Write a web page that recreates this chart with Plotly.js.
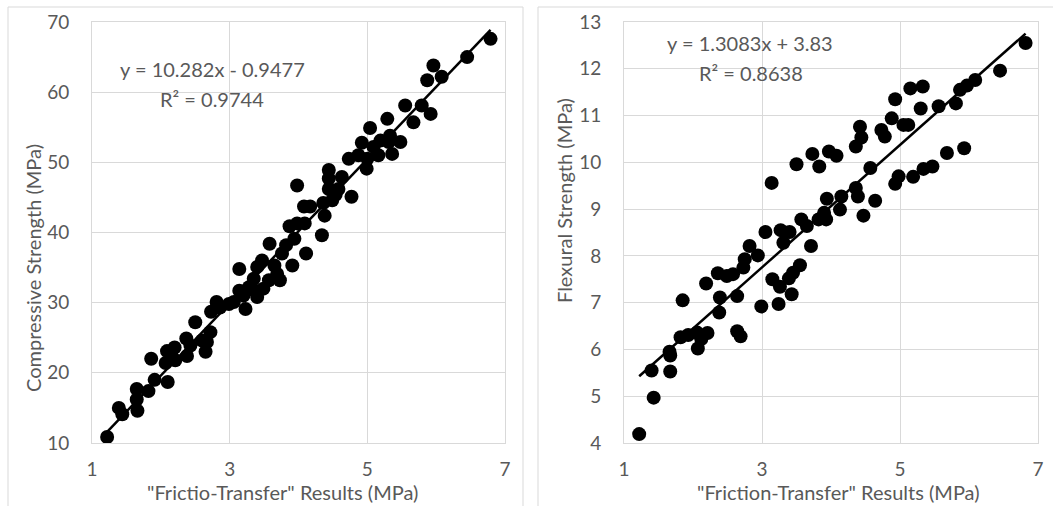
<!DOCTYPE html>
<html>
<head>
<meta charset="utf-8">
<script src="https://cdn.plot.ly/plotly-3.0.1.min.js"></script>
<style>html,body{margin:0;padding:0;background:#fff;}#chart{width:1053px;height:506px;}</style>
</head>
<body>
<div id="chart"></div>
<script>
// Left chart: "Frictio-Transfer" results vs Compressive Strength
const ftLeft = [1.22,1.39,1.44,1.65,1.65,1.66,1.82,1.86,1.91,2.09,2.10,2.07,2.20,2.21,2.15,2.37,2.38,2.43,2.50,2.60,2.65,2.72,2.67,2.73,2.81,2.86,2.99,3.06,3.14,3.14,3.23,3.20,3.28,3.35,3.35,3.40,3.40,3.47,3.49,3.57,3.58,3.65,3.69,3.73,3.76,3.82,3.87,3.91,3.94,3.98,3.98,4.08,4.09,4.11,4.17,4.34,4.36,4.38,4.44,4.44,4.44,4.49,4.54,4.58,4.63,4.73,4.77,4.87,4.92,4.99,5.00,5.04,5.09,5.16,5.19,5.29,5.31,5.36,5.33,5.48,5.55,5.67,5.79,5.87,5.92,5.96,6.08,6.45,6.79];
const compStrength = [10.85,15.0,14.1,17.7,16.2,14.6,17.4,22.0,19.0,23.1,18.7,21.4,23.6,21.8,22.7,24.9,22.4,23.9,27.2,24.6,23.0,25.8,24.4,28.7,30.1,29.3,29.8,30.1,34.8,31.7,29.1,31.0,32.2,33.4,31.8,30.8,35.1,36.0,32.0,33.2,38.4,35.3,34.1,33.2,37.0,38.2,40.9,35.3,39.1,46.7,41.3,43.7,41.3,37.0,43.7,39.6,44.2,42.4,48.9,47.7,46.2,44.6,45.4,46.2,47.9,50.5,45.1,51.0,52.8,49.1,50.5,54.9,52.2,51.0,53.1,56.2,52.9,51.2,53.8,52.9,58.1,55.7,58.1,61.7,56.9,63.8,62.2,65.0,67.6];
const compFit = {slope: 10.282, intercept: -0.9477, r2: 0.9744};

// Right chart: "Friction-Transfer" results vs Flexural Strength
const ftRight = [1.22,1.40,1.43,1.66,1.67,1.67,1.82,1.85,1.93,2.06,2.07,2.12,2.19,2.21,2.36,2.39,2.38,2.49,2.58,2.64,2.64,2.69,2.73,2.75,2.82,2.94,2.99,3.05,3.14,3.15,3.24,3.26,3.27,3.31,3.40,3.39,3.43,3.45,3.50,3.55,3.57,3.65,3.71,3.73,3.82,3.83,3.90,3.93,3.94,3.97,4.08,4.13,4.15,4.36,4.36,4.39,4.42,4.44,4.47,4.57,4.64,4.73,4.78,4.88,4.93,4.93,4.98,5.05,5.12,5.15,5.19,5.30,5.33,5.34,5.47,5.56,5.68,5.81,5.87,5.93,5.97,6.09,6.45,6.82];
const flexStrength = [4.19,5.55,4.97,5.95,5.87,5.53,6.26,7.05,6.31,6.36,6.02,6.22,7.41,6.35,7.63,7.11,6.79,7.57,7.61,7.14,6.39,6.28,7.75,7.93,8.21,8.01,6.92,8.51,9.56,7.50,6.97,7.34,8.55,8.28,8.51,7.52,7.18,7.64,9.96,7.80,8.78,8.64,8.21,10.18,8.78,9.91,8.92,8.78,9.22,10.23,10.14,8.99,9.27,10.34,9.45,9.27,10.76,10.53,8.86,9.88,9.18,10.69,10.55,10.94,11.35,9.54,9.70,10.80,10.80,11.58,9.69,11.15,11.62,9.86,9.91,11.20,10.20,11.26,11.55,10.30,11.64,11.76,11.96,12.55];
const flexFit = {slope: 1.3083, intercept: 3.83, r2: 0.8638};

const xTickVals = [1, 3, 5, 7];
const compTicks = [10, 20, 30, 40, 50, 60, 70];
const flexTicks = [4, 5, 6, 7, 8, 9, 10, 11, 12, 13];

const W = 1053, H = 506;
const px = v => v / W;
const py = v => 1 - v / H;

function fitLine(xs, fit) {
  const x0 = Math.min(...xs), x1 = Math.max(...xs);
  return {x: [x0, x1], y: [fit.slope * x0 + fit.intercept, fit.slope * x1 + fit.intercept]};
}
const lineL = fitLine(ftLeft, compFit);
const lineR = fitLine(ftRight, flexFit);

const FONT = 'Lato, Open Sans, sans-serif';
const GREY = '#595959';
const GRID = '#d9d9d9';
const FS = 19;
const FT = 20;

const traces = [
  {x: ftLeft, y: compStrength, type: 'scatter', mode: 'markers', xaxis: 'x', yaxis: 'y',
   marker: {color: '#000', size: 14}},
  {x: lineL.x, y: lineL.y, type: 'scatter', mode: 'lines', xaxis: 'x', yaxis: 'y',
   line: {color: '#000', width: 2.5}},
  {x: ftRight, y: flexStrength, type: 'scatter', mode: 'markers', xaxis: 'x2', yaxis: 'y2',
   marker: {color: '#000', size: 14}},
  {x: lineR.x, y: lineR.y, type: 'scatter', mode: 'lines', xaxis: 'x2', yaxis: 'y2',
   line: {color: '#000', width: 2.5}}
];

function xax(domain, anchor) {
  return {domain: domain, anchor: anchor, range: [1, 7], tickvals: xTickVals, showgrid: true,
    gridcolor: GRID, gridwidth: 1, showline: true, mirror: true, linecolor: GRID, linewidth: 1,
    zeroline: false, ticks: '', ticklabelstandoff: 9, tickfont: {family: FONT, size: FS, color: GREY}};
}
function yax(domain, anchor, range, ticks) {
  return {domain: domain, anchor: anchor, range: range, tickvals: ticks, showgrid: true,
    gridcolor: GRID, gridwidth: 1, showline: true, mirror: true, linecolor: GRID, linewidth: 1,
    zeroline: false, ticks: '', ticklabelstandoff: 18, tickfont: {family: FONT, size: FS, color: GREY}};
}

const ann = (text, x, y, size, extra) => Object.assign({text: text, xref: 'paper', yref: 'paper', x: px(x), y: py(y),
  xanchor: 'center', yanchor: 'middle', showarrow: false, font: {family: FONT, size: size, color: GREY}}, extra || {});

const layout = {
  width: W, height: H, margin: {l: 0, r: 0, t: 0, b: 0},
  paper_bgcolor: '#fff', plot_bgcolor: '#fff', showlegend: false,
  xaxis: xax([px(92), px(505)], 'y'),
  yaxis: yax([py(443), py(22)], 'x', [10, 70], compTicks),
  xaxis2: xax([px(624), px(1038)], 'y2'),
  yaxis2: yax([py(443), py(22)], 'x2', [4, 13], flexTicks),
  shapes: [
    {type: 'rect', xref: 'paper', yref: 'paper', x0: px(8), x1: px(523), y0: -0.1, y1: py(7),
     line: {color: GRID, width: 1}, fillcolor: 'rgba(0,0,0,0)', layer: 'below'},
    {type: 'rect', xref: 'paper', yref: 'paper', x0: px(538), x1: 1.1, y0: -0.1, y1: py(7),
     line: {color: GRID, width: 1}, fillcolor: 'rgba(0,0,0,0)', layer: 'below'}
  ],
  annotations: [
    ann('y = 10.282x - 0.9477', 212, 69, 20),
    ann('R² = 0.9744', 212, 99, 20),
    ann('y = 1.3083x + 3.83', 750, 43, 20),
    ann('R² = 0.8638', 751, 73, 20),
    ann('"Frictio-Transfer" Results (MPa)', 282, 0, FT, {y: 0, yanchor: 'bottom'}),
    ann('"Friction-Transfer" Results (MPa)', 838, 0, FT, {y: 0, yanchor: 'bottom'}),
    ann('Compressive Strength (MPa)', 33, 268, FT, {textangle: -90}),
    ann('Flexural Strength (MPa)', 564, 201, FT, {textangle: -90})
  ]
};

Plotly.newPlot('chart', traces, layout, {displayModeBar: false, staticPlot: true});
</script>
</body>
</html>
